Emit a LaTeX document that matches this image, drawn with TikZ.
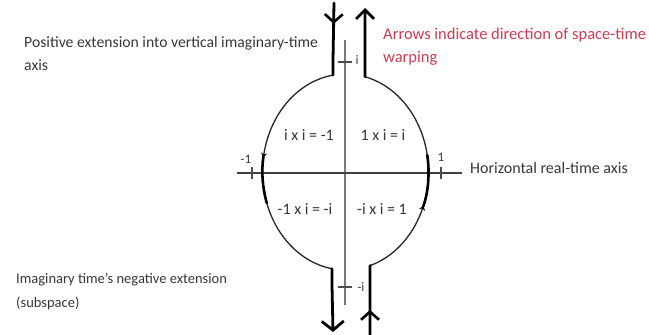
\documentclass[tikz,border=0pt]{standalone}
\usepackage{fontspec}
\setmainfont{Carlito}
\usetikzlibrary{arrows.meta,decorations.markings}
\definecolor{txt}{RGB}{55,55,55}
\definecolor{warn}{RGB}{200,62,82}
\definecolor{axisgray}{RGB}{120,120,120}
\begin{document}
\begin{tikzpicture}[x=1pt,y=1pt,
  lbl/.style={font=\fontsize{15.7}{21}\selectfont, text=txt, align=left, inner sep=0pt},
  redlbl/.style={lbl, font=\fontsize{16.5}{21}\selectfont, text=warn},
  quad/.style={font=\fontsize{16}{17}\selectfont, text=txt, inner sep=0pt},
  ticklbl/.style={font=\fontsize{13}{14}\selectfont, text=txt, inner sep=0pt},
  vaxis/.style={line width=2pt, draw=axisgray},
  haxis/.style={line width=1.3pt, draw=black!75},
  tickmark/.style={line width=1.2pt, draw=black!70},
  circ/.style={line width=1.3pt, draw=black!85},
  thickseg/.style={line width=2.6pt, draw=black, line cap=round},
  bigarrow/.style={line width=2.8pt, draw=black, line cap=round, line join=round},
  midtip/.style={postaction={decorate, decoration={markings,
      mark=at position #1 with {\arrow[line width=2.6pt]{Straight Barb[length=8pt,width=18pt]}}}}}
]
\useasboundingbox (0,0) rectangle (649,-335);

% axes
\coordinate (vtop) at (345,-40);
\coordinate (vbot) at (345,-305);
\coordinate (hl) at (237,-173);
\coordinate (hr) at (462,-173);
\draw[vaxis] (vtop) -- (vbot);
\draw[haxis] (hl) -- (hr);

% ticks
\coordinate (ti) at (345,-62);
\coordinate (tmi) at (345,-287);
\coordinate (tm1) at (252,-173);
\coordinate (t1) at (441,-173);
\draw[tickmark] ([xshift=-7pt]ti) -- ([xshift=7pt]ti);
\draw[tickmark] ([xshift=-7pt]tmi) -- ([xshift=7pt]tmi);
\draw[tickmark] ([yshift=6pt]tm1) -- ([yshift=-6pt]tm1);
\draw[tickmark] ([yshift=6pt]t1) -- ([yshift=-6pt]t1);
\node[ticklbl] (li) at (357,-60) {i};
\node[ticklbl] (lmi) at (361,-287) {-i};
\node[ticklbl] (lm1) at (246,-159) {-1};
\node[ticklbl] (l1) at (441,-157) {1};

% ellipse arcs
\coordinate (c) at (345.5,-172);
\draw[circ] (c) ++(98.7:83pt and 98pt) coordinate (jtl)
   arc[start angle=98.7, end angle=260.6, x radius=83, y radius=98] coordinate (jbl);
\draw[circ] (c) ++(76.4:83pt and 98pt) coordinate (jtr)
   arc[start angle=76.4, end angle=-72.8, x radius=83, y radius=98] coordinate (jbr);

% thickened side segments with small tips
\draw[thickseg, {Stealth[reversed,length=5pt,width=6pt]}-] (c) ++(168.8:83pt and 98pt)
   arc[start angle=168.8, end angle=198.4, x radius=83, y radius=98];
\draw[thickseg, {Stealth[reversed,length=5pt,width=6pt]}-] (c) ++(-22.8:83pt and 98pt)
   arc[start angle=-22.8, end angle=10, x radius=83, y radius=98];

% big arrows
\coordinate (tlend) at (334,-3);
\coordinate (trend) at (365,-8);
\coordinate (blend) at (333,-332);
\coordinate (brend) at (370,-335);
\draw[bigarrow, midtip=0.29] (tlend) -- (333,-60) -- (jtl);
\draw[bigarrow, -{Straight Barb[length=9pt,width=18pt]}] (jtr) -- (365,-60) -- (trend);
\draw[bigarrow, -{Straight Barb[length=9pt,width=22pt]}] (jbl) -- (332,-285) -- (blend);
\draw[bigarrow, midtip=0.36] (brend) -- (370,-285) -- (jbr);

% quadrant labels
\node[quad] (q1) at (309,-135) {i x i = -1};
\node[quad] (q2) at (383,-135) {1 x i = i};
\node[quad] (q3) at (305,-209) {-1 x i = -i};
\node[quad] (q4) at (382,-209) {-i x i = 1};

% texts
\node[lbl, anchor=west] (tpos) at (24,-43) {Positive extension into vertical imaginary-time};
\node[lbl, anchor=west] (tpos2) at (24,-65) {axis};
\node[redlbl, anchor=west] (tred) at (383,-35) {Arrows indicate direction of space-time};
\node[redlbl, anchor=west] (tred2) at (383,-58) {warping};
\node[lbl, font=\fontsize{16}{21}\selectfont, anchor=west] (thor) at (470,-168) {Horizontal real-time axis};
\node[lbl, font=\fontsize{14.5}{21}\selectfont, anchor=west] (tneg) at (16,-280) {Imaginary time's negative extension};
\node[lbl, font=\fontsize{14.5}{21}\selectfont, anchor=west] (tneg2) at (16,-303) {(subspace)};
\end{tikzpicture}
\end{document}
